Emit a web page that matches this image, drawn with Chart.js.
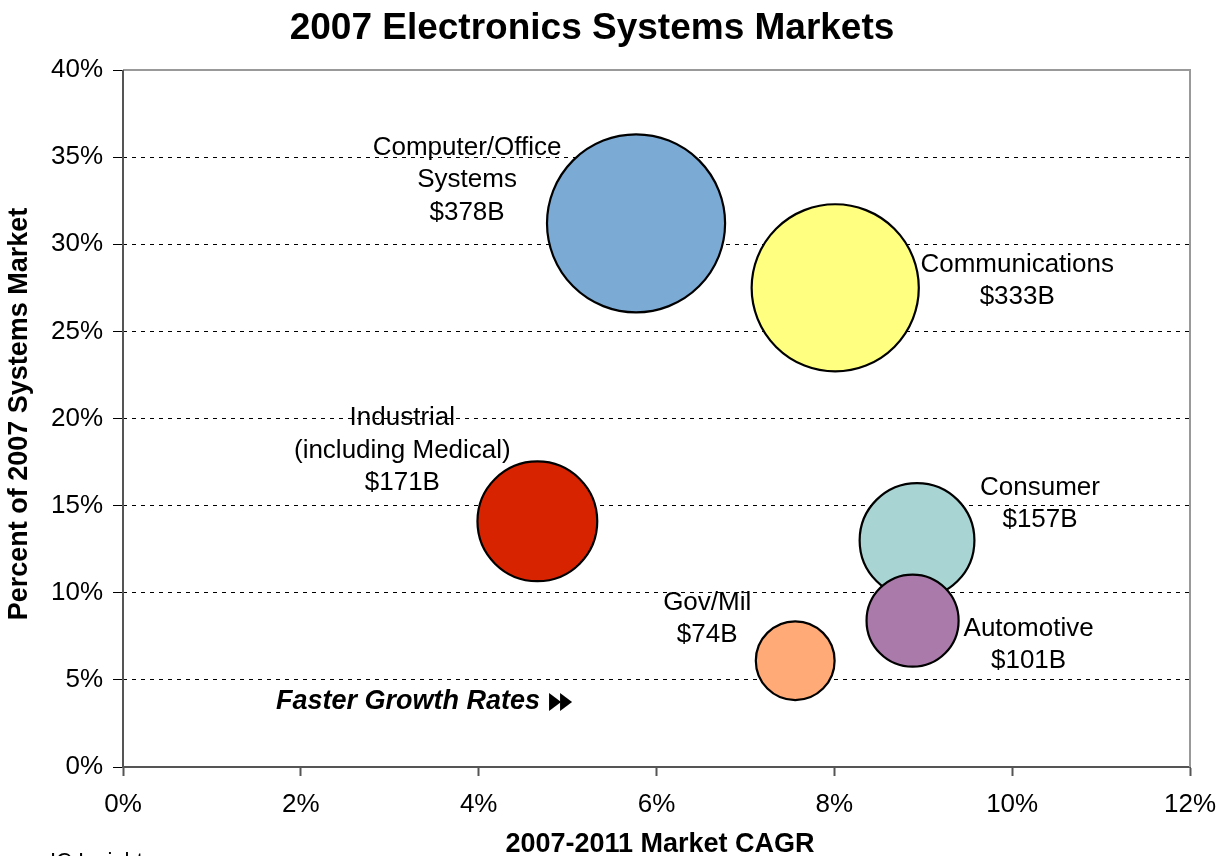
<!DOCTYPE html>
<html>
<head>
<meta charset="utf-8">
<script src="https://cdn.jsdelivr.net/npm/chart.js@4.4.0/dist/chart.umd.min.js"></script>
<style>
  html, body { margin: 0; padding: 0; background: #fff; }
  #wrap { width: 1219px; height: 856px; position: relative; }
</style>
</head>
<body>
<div id="wrap"><canvas id="c"></canvas></div>
<script>
// ---- Data ----
const segments = [
  ["Computer/Office", "Systems"],
  ["Communications"],
  ["Industrial", "(including Medical)"],
  ["Consumer"],
  ["Automotive"],
  ["Gov/Mil"]
];
const cagr = [5.77, 8.01, 4.66, 8.93, 8.88, 7.56];        // x, %
const shareOfMarket = [31.2, 27.5, 14.1, 13.0, 8.4, 6.1]; // y, %
const salesB = [378, 333, 171, 157, 101, 74];            // bubble size, $B
const xTicks = [0, 2, 4, 6, 8, 10, 12];
const yTicks = [0, 5, 10, 15, 20, 25, 30, 35, 40];

// ---- Styles ----
const colors = ["#7BAAD5", "#FFFF80", "#D82300", "#A8D4D4", "#AA7AAA", "#FFAA77"];
const labelOffsets = [[-169, -76], [182, -23], [-135, -103], [123, -53], [116, 8], [-88, -58]];
const RADIUS_SCALE = 4.58;
const FONT = "'Liberation Sans', Arial, sans-serif";

const points = cagr.map((x, i) => ({ x: x, y: shareOfMarket[i], r: RADIUS_SCALE * Math.sqrt(salesB[i]) }));

const decor = {
  id: 'decor',
  beforeDatasetsDraw(chart) {
    const ctx = chart.ctx;
    const a = chart.chartArea;
    ctx.save();
    // top & right frame
    ctx.strokeStyle = '#999';
    ctx.lineWidth = 2;
    ctx.beginPath();
    ctx.moveTo(a.left, a.top);
    ctx.lineTo(a.right, a.top);
    ctx.lineTo(a.right, a.bottom);
    ctx.stroke();
    // left axis line (solid)
    ctx.strokeStyle = '#555';
    ctx.beginPath();
    ctx.moveTo(a.left, a.top);
    ctx.lineTo(a.left, a.bottom);
    ctx.stroke();
    ctx.restore();
  },
  afterDraw(chart) {
    const ctx = chart.ctx;
    ctx.save();
    // bubble labels
    const meta = chart.getDatasetMeta(0);
    ctx.fillStyle = '#000';
    ctx.font = "26px " + FONT;
    ctx.textAlign = 'center';
    ctx.textBaseline = 'middle';
    meta.data.forEach((el, i) => {
      const lines = segments[i].concat(["$" + salesB[i] + "B"]);
      const off = labelOffsets[i];
      lines.forEach((t, j) => {
        ctx.fillText(t, el.x + off[0], el.y + off[1] + j * 32.5);
      });
    });

    // title
    ctx.font = "bold 37px " + FONT;
    ctx.fillText("2007 Electronics Systems Markets", 592, 29);

    // axis titles
    ctx.font = "bold 27px " + FONT;
    ctx.fillText("2007-2011 Market CAGR", 660, 845);
    ctx.save();
    ctx.translate(20, 414);
    ctx.rotate(-Math.PI / 2);
    ctx.fillText("Percent of 2007 Systems Market", 0, 0);
    ctx.restore();

    // annotation
    ctx.font = "italic bold 27px " + FONT;
    ctx.textAlign = 'left';
    ctx.fillText("Faster Growth Rates", 276, 702);
    const tw = ctx.measureText("Faster Growth Rates").width;
    let ax = 276 + tw + 9;
    const ay = 702;
    for (let k = 0; k < 2; k++) {
      ctx.beginPath();
      ctx.moveTo(ax + k * 11, ay - 9);
      ctx.lineTo(ax + k * 11 + 12, ay);
      ctx.lineTo(ax + k * 11, ay + 9);
      ctx.closePath();
      ctx.fill();
    }

    // source
    ctx.font = "22px " + FONT;
    ctx.textBaseline = 'top';
    ctx.fillText("IC Insights", 50, 851);
    ctx.restore();
  }
};

new Chart(document.getElementById('c'), {
  type: 'bubble',
  data: {
    datasets: [{
      data: points,
      backgroundColor: colors,
      borderColor: '#000',
      borderWidth: 2.2,
      hoverBorderWidth: 2.2,
      clip: false
    }]
  },
  options: {
    responsive: true,
    maintainAspectRatio: false,
    animation: false,
    events: [],
    layout: { autoPadding: false, padding: { top: 70, right: 29, left: 0, bottom: 0 } },
    plugins: { legend: { display: false }, title: { display: false }, tooltip: { enabled: false } },
    scales: {
      x: {
        type: 'linear', min: 0, max: 12,
        afterBuildTicks(s) { s.ticks = xTicks.map(v => ({ value: v })); },
        afterFit(s) { s.height = 89; s.paddingLeft = 0; s.paddingRight = 0; },
        ticks: { callback: v => v + '%', font: { family: FONT, size: 26 }, color: '#000', padding: 13, maxRotation: 0 },
        grid: { drawOnChartArea: false, drawTicks: true, tickLength: 9, tickColor: '#555', tickWidth: 2 },
        border: { display: true, color: '#555', width: 2 }
      },
      y: {
        type: 'linear', min: 0, max: 40,
        afterBuildTicks(s) { s.ticks = yTicks.map(v => ({ value: v })); },
        afterFit(s) { s.width = 123; s.paddingTop = 0; s.paddingBottom = 0; },
        ticks: { callback: v => v + '%', font: { family: FONT, size: 26 }, color: '#000', padding: 10 },
        grid: {
          color: c => (c.tick && (c.tick.value === 0 || c.tick.value === 40)) ? 'rgba(0,0,0,0)' : '#000',
          lineWidth: 1,
          drawTicks: true,
          tickLength: 10,
          tickColor: '#000',
          tickBorderDash: [],
          tickWidth: 1
        },
        border: { display: false, dash: [4, 5] }
      }
    }
  },
  plugins: [decor]
});
</script>
</body>
</html>
